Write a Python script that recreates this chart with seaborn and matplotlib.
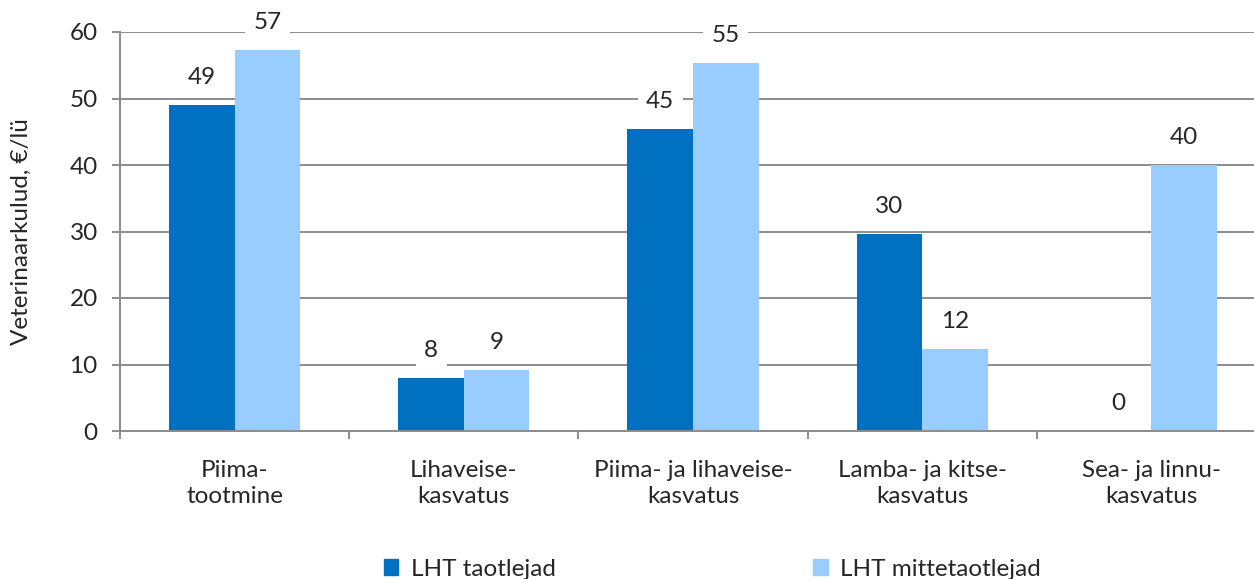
import pandas as pd
import matplotlib
matplotlib.use("Agg")
import matplotlib.pyplot as plt
import seaborn as sns
from matplotlib.patches import Patch

categories = ["Piima-\ntootmine", "Lihaveise-\nkasvatus", "Piima- ja lihaveise-\nkasvatus",
              "Lamba- ja kitse-\nkasvatus", "Sea- ja linnu-\nkasvatus"]
series = ["LHT taotlejad", "LHT mittetaotlejad"]
taotlejad = [49.0, 8.0, 45.4, 29.6, 0.0]
mittetaotlejad = [57.3, 9.2, 55.4, 12.4, 40.0]
colors = ["#0070C0", "#99CCFF"]

df = pd.DataFrame({
    "kategooria": categories * 2,
    "grupp": [series[0]] * 5 + [series[1]] * 5,
    "kulu": taotlejad + mittetaotlejad,
})

sns.set_theme(style="white")
plt.rcParams["font.family"] = ["Lato", "DejaVu Sans"]
fs = 17.5

fig = plt.figure(figsize=(12.54, 5.79), dpi=100)
ax = fig.add_axes([120 / 1254, 148 / 579, 1146 / 1254, 399 / 579])

sns.barplot(data=df, x="kategooria", y="kulu", hue="grupp", palette=colors,
            width=0.572, saturation=1, ax=ax, legend=False, zorder=2,
            edgecolor="none", linewidth=0)

ax.set_ylim(0, 60)
ax.set_xlim(-0.5, 4.5)
ax.set_yticks(range(0, 61, 10))
ax.yaxis.grid(True, color="#8c8c8c", linewidth=1.4, zorder=0)
ax.set_axisbelow(True)

for s in ["top", "right"]:
    ax.spines[s].set_visible(False)
for s in ["left", "bottom"]:
    ax.spines[s].set_color("#8c8c8c")
    ax.spines[s].set_linewidth(1.4)

ax.tick_params(axis="y", left=True, length=6, width=1.4, color="#8c8c8c",
               labelsize=fs, pad=10)
ax.tick_params(axis="x", bottom=False, labelsize=fs, pad=15)
ax.set_xticks(range(5))
ax.set_xticklabels(categories, linespacing=1.3)
ax.set_xticks([i - 0.5 for i in range(6)], minor=True)
ax.tick_params(axis="x", which="minor", bottom=True, length=6, width=1.4,
               color="#8c8c8c")
ax.set_xlabel("")
ax.set_ylabel("Veterinaarkulud, €/lü", fontsize=fs, labelpad=27)

for cont in ax.containers:
    for bar in cont:
        h = bar.get_height()
        ax.annotate(f"{h:.0f}", (bar.get_x() + bar.get_width() / 2, h),
                    xytext=(0, 12), textcoords="offset points",
                    ha="center", va="bottom", fontsize=fs, zorder=3,
                    bbox=dict(boxstyle="square,pad=0.35", fc="white", ec="none"))

handles = [Patch(color=c, label=s) for c, s in zip(colors, series)]
fig.legend(handles=handles, loc="center", bbox_to_anchor=(0.568, 0.017), ncol=2,
           frameon=False, fontsize=fs, handlelength=0.6, handleheight=0.6,
           handletextpad=0.5, columnspacing=10.6)

fig.savefig("out.png", dpi=100)
